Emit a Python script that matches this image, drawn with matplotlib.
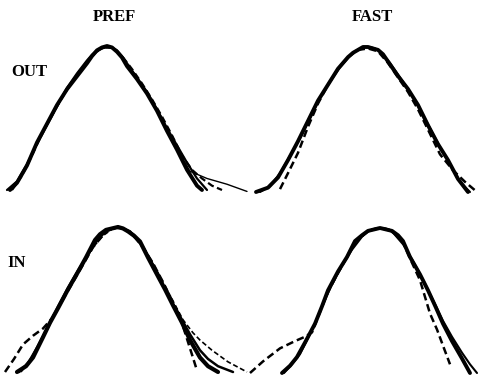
import matplotlib
matplotlib.use("Agg")
import matplotlib.pyplot as plt

# ==========================================
# 1. Curves
#    x = offset from the peak (deg), y = response normalised to the peak
# ==========================================

# --- OUT / PREF ---
op_main_x = [-97, -90, -80, -70, -60, -50, -40, -30, -20, -15, -10, -5, 0, 5, 10, 15, 20, 30, 40, 50, 60, 70, 80, 90, 95]
op_main_y = [0.00, 0.05, 0.17, 0.33, 0.46, 0.59, 0.70, 0.79, 0.88, 0.93, 0.97, 0.99, 1.00, 0.99, 0.96, 0.92, 0.86, 0.77, 0.67, 0.55, 0.41, 0.28, 0.14, 0.03, 0.00]
op_b_x = [-100, -90, -80, -70, -60, -50, -40, -30, -20, -15, -10, -5, 0, 5, 10, 15, 20, 30, 40, 50, 60, 70, 80, 90, 100]
op_b_y = [0.00, 0.06, 0.18, 0.32, 0.45, 0.58, 0.71, 0.81, 0.90, 0.94, 0.97, 0.99, 0.99, 0.99, 0.97, 0.93, 0.88, 0.78, 0.68, 0.56, 0.43, 0.31, 0.19, 0.08, 0.00]
op_dash_x = [-95, -85, -75, -65, -55, -45, -35, -25, -15, -5, 5, 15, 25, 35, 45, 55, 65, 75, 85, 95, 105, 115]
op_dash_y = [0.00, 0.10, 0.24, 0.39, 0.52, 0.64, 0.75, 0.85, 0.93, 0.99, 0.99, 0.93, 0.84, 0.74, 0.63, 0.51, 0.38, 0.24, 0.14, 0.08, 0.03, 0.00]
op_thin_x = [-98, -88, -78, -68, -58, -48, -38, -28, -18, -8, 2, 12, 22, 32, 42, 52, 62, 72, 83, 100, 120, 140]
op_thin_y = [0.00, 0.07, 0.20, 0.35, 0.48, 0.61, 0.72, 0.82, 0.91, 0.97, 1.00, 0.95, 0.86, 0.76, 0.65, 0.52, 0.39, 0.26, 0.13, 0.08, 0.04, -0.01]

# --- OUT / FAST ---
of_main_x = [-112, -100, -90, -80, -70, -60, -50, -40, -30, -20, -15, -10, -5, 0, 5, 10, 15, 20, 30, 40, 50, 60, 70, 80, 90, 100]
of_main_y = [0.00, 0.03, 0.10, 0.22, 0.35, 0.49, 0.63, 0.74, 0.85, 0.93, 0.96, 0.98, 1.00, 1.00, 0.99, 0.98, 0.95, 0.90, 0.80, 0.71, 0.60, 0.46, 0.33, 0.22, 0.09, 0.00]
of_b_x = [-108, -98, -88, -78, -68, -58, -48, -38, -28, -18, -13, -8, -3, 2, 7, 12, 17, 22, 32, 42, 52, 62, 72, 82, 92, 102]
of_b_y = [0.00, 0.04, 0.13, 0.25, 0.37, 0.51, 0.65, 0.76, 0.86, 0.94, 0.97, 0.99, 1.00, 1.00, 0.99, 0.97, 0.93, 0.89, 0.79, 0.69, 0.57, 0.44, 0.31, 0.19, 0.07, 0.00]
of_dash_x = [-88, -80, -70, -60, -50, -40, -30, -20, -10, 0, 10, 20, 30, 40, 50, 60, 72, 85, 97, 109]
of_dash_y = [0.02, 0.13, 0.27, 0.45, 0.61, 0.74, 0.85, 0.93, 0.98, 0.99, 0.97, 0.89, 0.79, 0.69, 0.57, 0.43, 0.26, 0.15, 0.07, 0.00]

# --- IN / PREF ---
ip_main_x = [-101, -92, -85, -75, -68, -60, -50, -40, -32, -23, -18, -12, -6, 0, 5, 10, 16, 22, 30, 40, 47, 55, 64, 72, 82, 90, 100]
ip_main_y = [0.00, 0.04, 0.10, 0.24, 0.34, 0.44, 0.57, 0.69, 0.79, 0.91, 0.95, 0.98, 0.99, 1.00, 0.99, 0.97, 0.94, 0.90, 0.79, 0.66, 0.57, 0.46, 0.34, 0.22, 0.10, 0.04, 0.00]
ip_b_x = [-99, -90, -80, -70, -60, -50, -40, -30, -20, -15, -10, -5, 0, 5, 10, 15, 20, 25, 35, 45, 55, 64, 72, 82, 90, 100, 115]
ip_b_y = [0.00, 0.06, 0.18, 0.31, 0.45, 0.58, 0.70, 0.81, 0.92, 0.95, 0.98, 0.99, 1.00, 0.99, 0.97, 0.95, 0.91, 0.86, 0.74, 0.60, 0.47, 0.36, 0.26, 0.15, 0.09, 0.04, 0.00]
ip_thin_x = [-97, -85, -75, -65, -55, -45, -35, -25, -15, -5, 5, 15, 25, 35, 45, 55, 65, 75, 82, 94, 110, 129]
ip_thin_y = [0.00, 0.11, 0.25, 0.38, 0.51, 0.64, 0.75, 0.86, 0.94, 0.99, 0.99, 0.94, 0.86, 0.75, 0.62, 0.49, 0.36, 0.27, 0.22, 0.15, 0.07, 0.00]
ip_dash_x = [-113, -104, -95, -85, -75, -66, -55, -45, -35, -25, -12, 0, 12, 25, 35, 45, 55, 62, 68, 74, 79]
ip_dash_y = [0.00, 0.09, 0.19, 0.25, 0.30, 0.37, 0.50, 0.62, 0.74, 0.86, 0.97, 1.00, 0.97, 0.86, 0.75, 0.62, 0.48, 0.38, 0.25, 0.12, 0.01]

# --- IN / FAST ---
if_main_x = [-98, -90, -83, -75, -65, -58, -52, -42, -33, -25, -18, -12, -6, 0, 6, 12, 18, 23, 30, 40, 48, 56, 63, 72, 82, 90]
if_main_y = [0.00, 0.05, 0.11, 0.21, 0.34, 0.46, 0.57, 0.70, 0.80, 0.91, 0.95, 0.98, 0.99, 1.00, 0.99, 0.98, 0.95, 0.91, 0.80, 0.68, 0.57, 0.45, 0.34, 0.22, 0.10, 0.00]
if_b_x = [-96, -88, -80, -72, -64, -56, -48, -38, -28, -18, -13, -8, -3, 4, 9, 14, 19, 24, 34, 44, 54, 63, 72, 82, 90, 97]
if_b_y = [0.00, 0.06, 0.13, 0.24, 0.36, 0.49, 0.61, 0.74, 0.85, 0.94, 0.97, 0.99, 1.00, 1.00, 0.99, 0.96, 0.92, 0.88, 0.76, 0.63, 0.49, 0.36, 0.25, 0.14, 0.06, 0.00]
if_dash_x = [-130, -117, -100, -85, -75, -68, -60, -52, -42, -33, -25, -12, 0, 12, 23, 30, 40, 50, 57, 64, 70]
if_dash_y = [0.00, 0.08, 0.17, 0.22, 0.25, 0.28, 0.42, 0.56, 0.69, 0.80, 0.90, 0.98, 1.00, 0.98, 0.90, 0.79, 0.64, 0.41, 0.30, 0.17, 0.06]

col_titles = ["PREF", "FAST"]
row_titles = ["OUT", "IN"]

# ==========================================
# 2. Canvas
# ==========================================
W, H = 479, 381
fig = plt.figure(figsize=(W / 100, H / 100), dpi=100)
fig.patch.set_facecolor("white")


def add_panel(left, top, width, height, peak_x, base_y, top_y):
    # axes placed in pixel box; 1 x unit = 1 px, y=0 baseline, y=1 peak
    ax = fig.add_axes([left / W, 1 - (top + height) / H, width / W, height / H])
    ax.set_xlim(left - peak_x, left + width - peak_x)
    scale = base_y - top_y
    ax.set_ylim((base_y - (top + height)) / scale, (base_y - top) / scale)
    ax.axis("off")
    return ax


solid = dict(color="black", solid_capstyle="round", solid_joinstyle="round", clip_on=False)
dashed = dict(color="black", linestyle=(0, (3, 1.6)), clip_on=False)

ax1 = add_panel(0, 30, 240, 170, 107, 190, 46)
ax1.plot(op_thin_x, op_thin_y, lw=1.0, **solid)
ax1.plot(op_dash_x, op_dash_y, lw=1.6, **dashed)
ax1.plot(op_b_x, op_b_y, lw=1.6, **solid)
ax1.plot(op_main_x, op_main_y, lw=2.8, **solid)

ax2 = add_panel(240, 30, 239, 170, 368, 192, 47)
ax2.plot(of_dash_x, of_dash_y, lw=1.8, **dashed)
ax2.plot(of_b_x, of_b_y, lw=1.5, **solid)
ax2.plot(of_main_x, of_main_y, lw=2.8, **solid)

ax3 = add_panel(0, 205, 240, 176, 118, 372, 227)
ax3.plot(ip_thin_x, ip_thin_y, lw=1.2, **dashed)
ax3.plot(ip_dash_x, ip_dash_y, lw=1.8, **dashed)
ax3.plot(ip_b_x, ip_b_y, lw=1.8, **solid)
ax3.plot(ip_main_x, ip_main_y, lw=3.0, **solid)

ax4 = add_panel(240, 205, 239, 176, 380, 373, 228)
ax4.plot(if_dash_x, if_dash_y, lw=1.8, **dashed)
ax4.plot(if_b_x, if_b_y, lw=1.5, **solid)
ax4.plot(if_main_x, if_main_y, lw=2.8, **solid)

# ==========================================
# 3. Labels
# ==========================================
lab = dict(family="Liberation Serif", weight="bold", fontsize=12, color="black",
           ha="center", va="center")
fig.text(114 / W, 1 - 17 / H, col_titles[0], **lab)
fig.text(372 / W, 1 - 17 / H, col_titles[1], **lab)
fig.text(29 / W, 1 - 72 / H, row_titles[0], **lab)
fig.text(17 / W, 1 - 263 / H, row_titles[1], **lab)

fig.savefig("out.png", dpi=100, facecolor="white")
